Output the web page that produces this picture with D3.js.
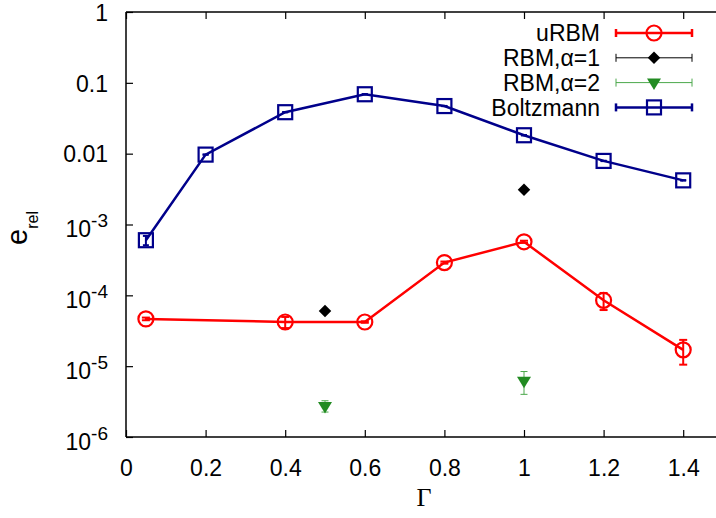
<!DOCTYPE html>
<html>
<head>
<meta charset="utf-8">
<script src="https://cdn.jsdelivr.net/npm/d3@7"></script>
<style>
  body { margin: 0; background: #fff; }
  svg { font-family: "Liberation Sans", Arial, sans-serif; }
</style>
</head>
<body>
<div id="chart"></div>
<script>
// values
const gammaURBM = [0.05, 0.4, 0.6, 0.8, 1.0, 1.2, 1.4];
const errURBM   = [4.65e-5, 4.2e-5, 4.2e-5, 2.9e-4, 5.7e-4, 8.5e-5, 1.7e-5];
const sdURBM    = [0.2e-5, 0.75e-5, 0.1e-5, 0.1e-4, 0.2e-4, 2.3e-5, 0.65e-5];

const gammaRBM1 = [0.5, 1.0];
const errRBM1   = [6.0e-5, 3.1e-3];
const sdRBM1    = [0, 0];

const gammaRBM2 = [0.5, 1.0];
const errRBM2   = [2.75e-6, 6.2e-6];
const sdRBM2    = [0.5e-6, 2.2e-6];

const gammaBoltz = [0.05, 0.2, 0.4, 0.6, 0.8, 1.0, 1.2, 1.4];
const errBoltz   = [6.0e-4, 9.7e-3, 0.0385, 0.069, 0.047, 0.0182, 7.9e-3, 4.2e-3];
const sdBoltz    = [0.9e-4, 0.5e-4, 0.2e-3, 0.3e-3, 0.2e-3, 0.1e-3, 0.5e-4, 0.3e-4];

const xTicks = [0, 0.2, 0.4, 0.6, 0.8, 1.0, 1.2, 1.4];
const yTicks = [1, 0.1, 0.01, 1e-3, 1e-4, 1e-5, 1e-6];
const yTickLabels = ["1", "0.1", "0.01", "10|-3", "10|-4", "10|-5", "10|-6"];

const seriesNames = ["uRBM", "RBM,\u03b1=1", "RBM,\u03b1=2", "Boltzmann"];

const width = 716, height = 518;
const margin = { top: 12, left: 126, bottom: 81 };
const plotRight = 723; // plot box runs past the picture edge

const svg = d3.select("#chart").append("svg")
    .attr("width", width)
    .attr("height", height);

const x = d3.scaleLinear().domain([0, 1.5]).range([margin.left, plotRight]);
const y = d3.scaleLog().domain([1e-6, 1]).range([height - margin.bottom, margin.top]);

// axes, ticks inward
const xAxis = svg.append("g")
    .attr("transform", `translate(0,${height - margin.bottom})`)
    .call(d3.axisBottom(x).tickValues(xTicks).tickSize(-7).tickPadding(23)
        .tickFormat(d => d3.format("")(+d.toFixed(1))));
const xAxisTop = svg.append("g")
    .attr("transform", `translate(0,${margin.top})`)
    .call(d3.axisTop(x).tickValues(xTicks).tickSize(-7).tickFormat(""));
const yAxis = svg.append("g")
    .attr("transform", `translate(${margin.left},0)`)
    .call(d3.axisLeft(y).tickValues(yTicks).tickSize(-7).tickFormat(""));

[xAxis, xAxisTop, yAxis].forEach(a => {
    a.select(".domain").attr("stroke", "#000").attr("stroke-width", 1.5);
    a.selectAll(".tick line").attr("stroke", "#000").attr("stroke-width", 1.2);
});
xAxisTop.select(".domain").attr("d", `M${margin.left},0H${plotRight}`);
xAxis.select(".domain").attr("d", `M${margin.left},0H${plotRight}`);
yAxis.select(".domain").attr("d", `M0,${y(1)}V${y(1e-6)}`);

xAxis.selectAll(".tick text")
    .attr("font-size", 23).attr("fill", "#000")
    .attr("font-family", "Liberation Sans, Arial, sans-serif");

// y tick labels with superscripts
yAxis.selectAll(".tick").each(function (d, i) {
    const parts = yTickLabels[i].split("|");
    const t = d3.select(this).append("text")
        .attr("x", -18)
        .attr("text-anchor", "end")
        .attr("fill", "#000")
        .attr("font-size", 23)
        .attr("font-family", "Liberation Sans, Arial, sans-serif");
    if (parts[1]) {
        t.attr("y", 12);
        t.append("tspan").text(parts[0]);
        t.append("tspan").attr("font-size", 19).attr("dy", -10).text(parts[1]);
    } else {
        t.attr("dy", "0.36em").text(parts[0]);
    }
});

// axis titles
const yLabel = svg.append("text")
    .attr("transform", `translate(27,228) rotate(-90)`)
    .attr("text-anchor", "middle")
    .attr("font-size", 29);
yLabel.append("tspan").text("e");
yLabel.append("tspan").attr("font-size", 16).attr("dy", 11).text("rel");

svg.append("text")
    .attr("x", 424).attr("y", 506)
    .attr("text-anchor", "middle")
    .attr("font-family", "Liberation Serif, Times New Roman, serif")
    .attr("font-size", 26)
    .text("\u0393");

function rows(xs, ys, es) {
    return xs.map((g, i) => ({ g: g, v: ys[i], e: es[i] }));
}

function errorBars(g, data, color, sw, cap) {
    const eb = g.selectAll(".eb").data(data.filter(d => d.e > 0)).enter().append("g");
    eb.append("line")
        .attr("x1", d => x(d.g)).attr("x2", d => x(d.g))
        .attr("y1", d => y(d.v + d.e)).attr("y2", d => y(d.v - d.e))
        .attr("stroke", color).attr("stroke-width", sw);
    [1, -1].forEach(s => {
        eb.append("line")
            .attr("x1", d => x(d.g) - cap).attr("x2", d => x(d.g) + cap)
            .attr("y1", d => y(d.v + s * d.e)).attr("y2", d => y(d.v + s * d.e))
            .attr("stroke", color).attr("stroke-width", sw);
    });
}

const line = d3.line().x(d => x(d.g)).y(d => y(d.v));
const triDown = "M-7,-4L7,-4L0,7.5Z";

// uRBM
const dU = rows(gammaURBM, errURBM, sdURBM);
const gU = svg.append("g");
gU.append("path").datum(dU).attr("d", line)
    .attr("fill", "none").attr("stroke", "#ff0000").attr("stroke-width", 2.5);
errorBars(gU, dU, "#ff0000", 2, 4);
gU.selectAll("circle").data(dU).enter().append("circle")
    .attr("cx", d => x(d.g)).attr("cy", d => y(d.v)).attr("r", 7.5)
    .attr("fill", "none").attr("stroke", "#ff0000").attr("stroke-width", 2.2);

// RBM alpha=1
const d1 = rows(gammaRBM1, errRBM1, sdRBM1);
const g1 = svg.append("g");
g1.selectAll("path").data(d1).enter().append("path")
    .attr("d", d3.symbol().type(d3.symbolDiamond2).size(100))
    .attr("transform", d => `translate(${x(d.g)},${y(d.v)})`)
    .attr("fill", "#000");

// RBM alpha=2
const d2 = rows(gammaRBM2, errRBM2, sdRBM2);
const g2 = svg.append("g");
errorBars(g2, d2, "#4ca84c", 1, 3.5);
g2.selectAll("path.tri").data(d2).enter().append("path")
    .attr("class", "tri")
    .attr("d", triDown)
    .attr("transform", d => `translate(${x(d.g)},${y(d.v)})`)
    .attr("fill", "#228b22");

// Boltzmann
const dB = rows(gammaBoltz, errBoltz, sdBoltz);
const gB = svg.append("g");
gB.append("path").datum(dB).attr("d", line)
    .attr("fill", "none").attr("stroke", "#00008b").attr("stroke-width", 2.5);
errorBars(gB, dB, "#00008b", 2, 3);
gB.selectAll("rect").data(dB).enter().append("rect")
    .attr("x", d => x(d.g) - 7).attr("y", d => y(d.v) - 7)
    .attr("width", 14).attr("height", 14)
    .attr("fill", "none").attr("stroke", "#00008b").attr("stroke-width", 2.2);

// legend
const legendColors = ["#ff0000", "#000000", "#4ca84c", "#00008b"];
const legendWidths = [2.5, 1, 1, 2.5];
const legend = svg.append("g");
seriesNames.forEach((name, i) => {
    const ly = 33 + i * 24.8;
    const row = legend.append("g").attr("transform", `translate(0,${ly})`);
    row.append("text")
        .attr("x", 600).attr("dy", "0.36em")
        .attr("text-anchor", "end").attr("font-size", 23)
        .text(name);
    row.append("line").attr("x1", 616).attr("x2", 692)
        .attr("stroke", legendColors[i]).attr("stroke-width", legendWidths[i]);
    [616, 692].forEach(cx => row.append("line")
        .attr("x1", cx).attr("x2", cx).attr("y1", -4).attr("y2", 4)
        .attr("stroke", legendColors[i]).attr("stroke-width", legendWidths[i]));
    if (i === 0) {
        row.append("circle").attr("cx", 654).attr("r", 7.5)
            .attr("fill", "none").attr("stroke", "#ff0000").attr("stroke-width", 2.2);
    } else if (i === 1) {
        row.append("path").attr("d", d3.symbol().type(d3.symbolDiamond2).size(100))
            .attr("transform", "translate(654,0)").attr("fill", "#000");
    } else if (i === 2) {
        row.append("path").attr("d", triDown)
            .attr("transform", "translate(654,0)").attr("fill", "#228b22");
    } else {
        row.append("rect").attr("x", 647).attr("y", -7).attr("width", 14).attr("height", 14)
            .attr("fill", "none").attr("stroke", "#00008b").attr("stroke-width", 2.2);
    }
});
</script>
</body>
</html>
